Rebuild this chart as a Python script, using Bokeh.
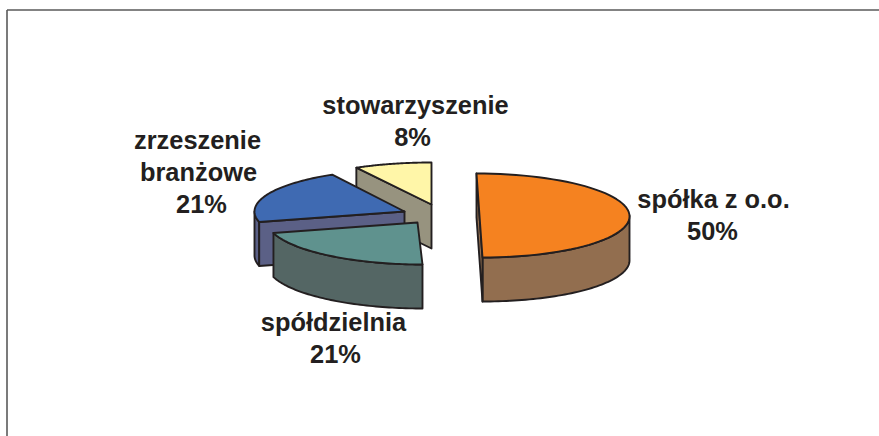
import numpy as np
from bokeh.plotting import figure
from bokeh.models import Range1d
from bokeh.core.properties import value
from bokeh.embed import file_html
from bokeh.resources import INLINE

labels = ["spółka z o.o.\n50%", "spółdzielnia\n21%", "zrzeszenie\nbranżowe\n21%", "stowarzyszenie\n8%"]
shares = [50, 21, 21, 8]
top_colors = ["#f58220", "#5f928e", "#3f6ab2", "#fff6a8"]
side_colors = ["#926e4f", "#546664", "#5b6086", "#97937f"]

W, H = 879, 436
B, DEPTH = 42, 44
INK = "#231f20"
# layout of each slice in page pixels: exploded apex, half width, perspective lean
APEX = [(479, 215), (417, 222), (404, 211), (431, 204)]
HALF_W = [150, 150, 150, 156]
LEAN = [3, 5, 0, 0]
# centre of every text line of every label
LABEL_POS = [[(713, 198), (712, 230)], [(333, 321), (335, 353)],
             [(197, 139), (198, 171), (201, 203)], [(415, 104), (412, 136)]]

cum = np.cumsum([0] + shares) / sum(shares) * 360.0

def rim(i, t0, t1, dy=0, n=60):
    th = np.radians(np.linspace(t0, t1, n))
    cx, cy = APEX[i]
    return cx + HALF_W[i] * np.sin(th) - LEAN[i] * np.cos(th), cy - B * np.cos(th) + dy

def corner(i, t):
    x, y = rim(i, t, t, n=1)
    return float(x[0]), float(y[0])

p = figure(width=W, height=H, x_range=Range1d(0, W), y_range=Range1d(H, 0),
           output_backend="svg", toolbar_location=None, min_border=0,
           margin=0, background_fill_color="white",
           border_fill_color="white", outline_line_color=None)
p.axis.visible = False
p.grid.visible = False

def poly(xs, ys, color):
    p.patch(list(xs), list(ys), fill_color=color, line_color=INK, line_width=1.9, line_join="round")

p.line([6.5, 6.5], [H, 9.5], line_color="#5a5a5a", line_width=1.6)
p.line([6.5, W], [9.5, 9.5], line_color="#5a5a5a", line_width=1.6)

for i in [3, 2, 0, 1]:
    t0, t1 = cum[i], cum[i + 1]
    ax, ay = APEX[i]
    w0, w1 = max(t0, 90), min(t1, 270)
    if w1 > w0:
        x, y = rim(i, w0, w1)
        xb, yb = rim(i, w0, w1, DEPTH)
        poly(np.r_[x, xb[::-1]], np.r_[y, yb[::-1]], side_colors[i])
    if i == 0:
        x0, y0 = corner(i, t0); x1, y1 = corner(i, t1)
        poly([x0, x1, x1, x0], [y0, y1, y1 + DEPTH, y0 + DEPTH], side_colors[i])
    elif i in (2, 3):
        ex, ey = corner(i, t0)
        poly([ex, ax, ax, ex], [ey, ay, ay + DEPTH, ey + DEPTH], side_colors[i])
    x, y = rim(i, t0, t1)
    poly(np.r_[ax, x], np.r_[ay, y], top_colors[i])

for lab, pos in zip(labels, LABEL_POS):
    for line, (lx, ly) in zip(lab.split("\n"), pos):
        p.text([lx], [ly], text=[line], text_align="center", text_baseline="middle",
               text_font=value("Liberation Sans"), text_font_style="bold",
               text_font_size="25.4px", text_color=INK)

open("out.html", "w").write(file_html(p, INLINE))
